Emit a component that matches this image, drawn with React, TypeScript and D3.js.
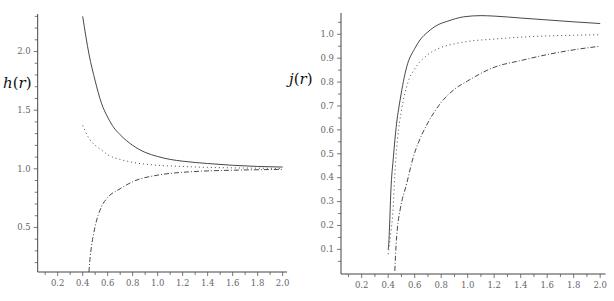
import React from 'react';
import * as d3 from 'd3';

// readings from the picture, r on x
const hSolidR = [0.4, 0.45, 0.5, 0.55, 0.6, 0.65, 0.7, 0.8, 0.9, 1.0, 1.1, 1.2, 1.4, 1.6, 1.8, 2.0];
const hSolidV = [2.3, 1.98, 1.75, 1.56, 1.44, 1.35, 1.29, 1.2, 1.14, 1.105, 1.08, 1.065, 1.045, 1.03, 1.02, 1.015];

const hDotR = [0.4, 0.45, 0.5, 0.55, 0.6, 0.7, 0.8, 1.0, 1.2, 1.4, 1.6, 2.0];
const hDotV = [1.37, 1.26, 1.2, 1.16, 1.12, 1.08, 1.055, 1.03, 1.02, 1.012, 1.008, 1.003];

const hDashR = [0.45, 0.46, 0.47, 0.5, 0.55, 0.6, 0.7, 0.8, 1.0, 1.2, 1.4, 1.6, 2.0];
const hDashV = [0.12, 0.25, 0.335, 0.51, 0.676, 0.755, 0.83, 0.89, 0.946, 0.97, 0.982, 0.988, 0.995];

const jSolidR = [0.4, 0.405, 0.41, 0.42, 0.44, 0.46, 0.49, 0.54, 0.6, 0.64, 0.7, 0.77, 0.85, 0.97, 1.1, 1.2, 1.4, 1.6, 1.8, 2.0];
const jSolidV = [0.1, 0.13, 0.19, 0.34, 0.49, 0.61, 0.725, 0.864, 0.94, 0.976, 1.01, 1.038, 1.055, 1.073, 1.078, 1.076, 1.068, 1.06, 1.052, 1.045];

const jDotR = [0.4, 0.42, 0.435, 0.45, 0.47, 0.5, 0.55, 0.6, 0.7, 0.8, 0.9, 1.0, 1.2, 1.4, 1.6, 1.8, 2.0];
const jDotV = [0.08, 0.17, 0.25, 0.41, 0.56, 0.68, 0.8, 0.855, 0.915, 0.945, 0.96, 0.97, 0.98, 0.988, 0.993, 0.996, 0.998];

const jDashR = [0.45, 0.46, 0.47, 0.49, 0.54, 0.59, 0.65, 0.7, 0.8, 0.9, 1.0, 1.2, 1.4, 1.6, 1.8, 2.0];
const jDashV = [0.01, 0.12, 0.19, 0.265, 0.376, 0.487, 0.575, 0.63, 0.715, 0.77, 0.805, 0.862, 0.89, 0.915, 0.935, 0.95];

const xTicks = d3.range(1, 21).map((d) => d / 10);
const xLabels = [0.2, 0.4, 0.6, 0.8, 1.0, 1.2, 1.4, 1.6, 1.8, 2.0];
const hTicks = d3.range(2, 24).map((d) => d / 10);
const hLabels = [0.5, 1.0, 1.5, 2.0];
const jTicks = d3.range(1, 22).map((d) => d / 20);
const jLabels = [0.1, 0.2, 0.3, 0.4, 0.5, 0.6, 0.7, 0.8, 0.9, 1.0];

const FONT = 'DejaVu Serif';
const INK = '#333';

type Series = { r: number[]; v: number[]; dash?: string };

interface PanelProps {
  x: d3.ScaleLinear<number, number>;
  y: d3.ScaleLinear<number, number>;
  yTicks: number[];
  yLabels: number[];
  series: Series[];
  label: string;
  labelX: number;
  labelY: number;
}

const near = (a: number, list: number[]) => list.some((b) => Math.abs(a - b) < 1e-6);

const Panel: React.FC<PanelProps> = ({ x, y, yTicks, yLabels, series, label, labelX, labelY }) => {
  const [x0, x1] = x.range();
  const [y0, y1] = y.range();
  const line = d3
    .line<[number, number]>()
    .x((d) => x(d[0]))
    .y((d) => y(d[1]))
    .curve(d3.curveMonotoneX);

  return (
    <g>
      {series.map((s, i) => (
        <path
          key={i}
          d={line(s.r.map((r, k) => [r, s.v[k]] as [number, number])) || ''}
          fill="none"
          stroke={INK}
          strokeWidth={0.9}
          strokeDasharray={s.dash}
        />
      ))}
      <line x1={x0} x2={x0} y1={y0} y2={y1} stroke="#444" strokeWidth={1} />
      <line x1={x0} x2={x1} y1={y0} y2={y0} stroke="#444" strokeWidth={1} />
      {yTicks.map((t) => (
        <line key={'yt' + t} x1={x0 - (near(t, yLabels) ? 4 : 3)} x2={x0} y1={y(t)} y2={y(t)} stroke="#555" strokeWidth={0.8} />
      ))}
      {yLabels.map((t) => (
        <text key={'yl' + t} x={x0 - 7} y={y(t)} dy="0.33em" textAnchor="end" fontSize={8.5} fill="#666" fontFamily={FONT}>
          {t.toFixed(1)}
        </text>
      ))}
      {xTicks.map((t) => (
        <line key={'xt' + t} x1={x(t)} x2={x(t)} y1={y0} y2={y0 + (near(t, xLabels) ? 4 : 3)} stroke="#555" strokeWidth={0.8} />
      ))}
      {xLabels.map((t) => (
        <text key={'xl' + t} x={x(t)} y={y0 + 14} textAnchor="middle" fontSize={8.5} fill="#666" fontFamily={FONT}>
          {t.toFixed(1)}
        </text>
      ))}
      <text x={labelX} y={labelY} fontSize={15} fill="#111" fontFamily={FONT}>
        <tspan fontStyle="italic">{label}</tspan>
        <tspan>(</tspan>
        <tspan fontStyle="italic">r</tspan>
        <tspan>)</tspan>
      </text>
    </g>
  );
};

export default function App() {
  const xL = d3.scaleLinear().domain([0.04, 2.035]).range([37.7, 287]);
  const yL = d3.scaleLinear().domain([0.12, 2.32]).range([272, 14]);
  const xR = d3.scaleLinear().domain([0.044, 2.04]).range([341, 605.5]);
  const yR = d3.scaleLinear().domain([-0.003, 1.089]).range([274, 13]);

  const hSeries: Series[] = [
    { r: hSolidR, v: hSolidV },
    { r: hDotR, v: hDotV, dash: '1,3' },
    { r: hDashR, v: hDashV, dash: '5,2,1,2' },
  ];
  const jSeries: Series[] = [
    { r: jSolidR, v: jSolidV },
    { r: jDotR, v: jDotV, dash: '1,3' },
    { r: jDashR, v: jDashV, dash: '5,2,1,2' },
  ];

  return (
    <svg width={614} height={301} style={{ position: 'absolute', left: 0, top: 0, background: '#fff' }}>
      <rect width={614} height={301} fill="#fff" />
      <Panel x={xL} y={yL} yTicks={hTicks} yLabels={hLabels} series={hSeries} label="h" labelX={3} labelY={88} />
      <Panel x={xR} y={yR} yTicks={jTicks} yLabels={jLabels} series={jSeries} label="j" labelX={289} labelY={84} />
    </svg>
  );
}
